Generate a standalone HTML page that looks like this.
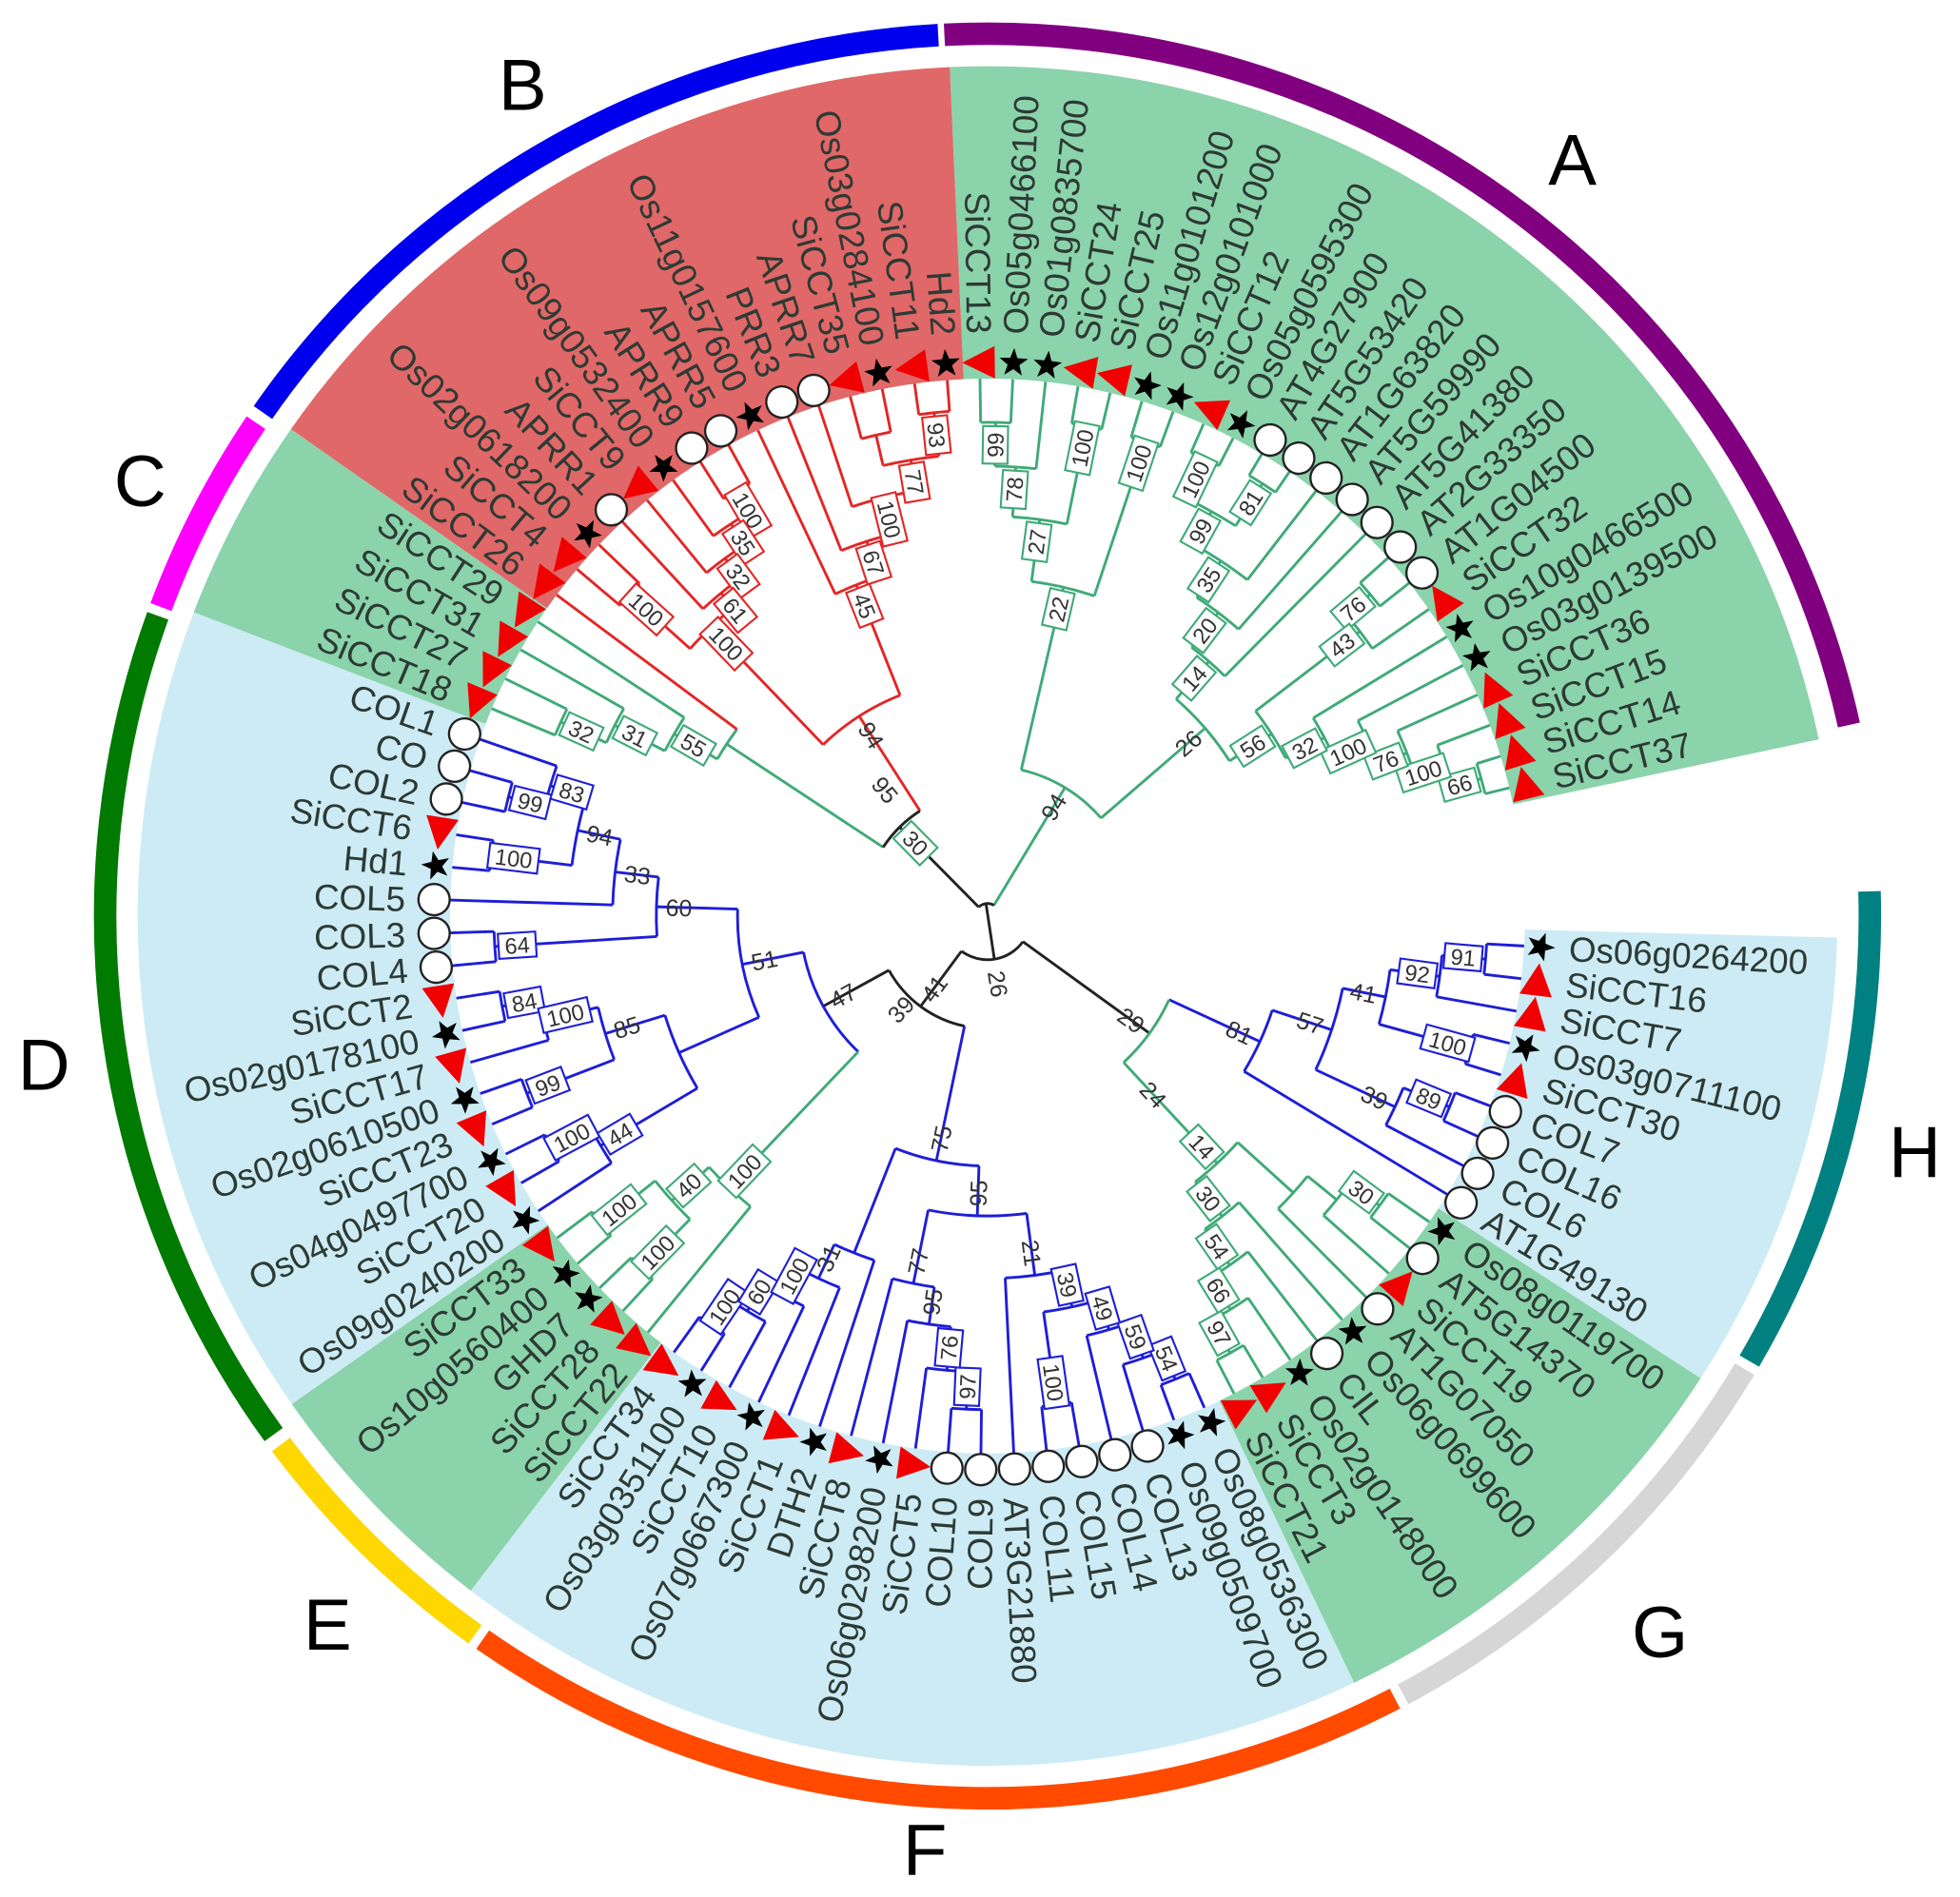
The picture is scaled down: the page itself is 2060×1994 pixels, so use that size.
<!DOCTYPE html>
<html><head><meta charset="utf-8"><style>
html,body{margin:0;padding:0;background:#fff;width:2060px;height:1994px;overflow:hidden}
svg{display:block}
.lab{font-family:"Liberation Sans",sans-serif;font-size:28px;fill:#2d3a34}
.R{text-anchor:start}.L{text-anchor:end}
.big{font-family:"Liberation Sans",sans-serif;font-size:58px;fill:#000;text-anchor:middle}
.bx text{font-family:"Liberation Sans",sans-serif;font-size:18px;fill:#333;text-anchor:middle}
.bx rect{fill:#fff;stroke-width:1.6}
.pl{font-family:"Liberation Sans",sans-serif;font-size:19px;fill:#333;text-anchor:middle}
</style></head><body>
<svg width="2060" height="1994" viewBox="0 0 1568 1518" xmlns="http://www.w3.org/2000/svg">
<defs>
<path id="st" d="M0,-12 L2.9,-4 L11.4,-3.7 L4.7,1.5 L7.1,9.7 L0,4.9 L-7.1,9.7 L-4.7,1.5 L-11.4,-3.7 L-2.9,-4Z" fill="#000"/>
<polygon id="tr" points="-14,0 12,-13 12,13" fill="#f00000"/>
<circle id="ci" r="12.5" fill="#fff" stroke="#222" stroke-width="1.8"/>
</defs>
<g fill="none" stroke-width="250">
<circle cx="790" cy="733" r="555" pathLength="360" stroke="#8bd3ab" stroke-dasharray="80.55 400" transform="rotate(-92.55 790 733)"/>
<circle cx="790" cy="733" r="555" pathLength="360" stroke="#cdebf4" stroke-dasharray="31.5 400" transform="rotate(1.45 790 733)"/>
<circle cx="790" cy="733" r="555" pathLength="360" stroke="#8bd3ab" stroke-dasharray="31.5 400" transform="rotate(32.95 790 733)"/>
<circle cx="790" cy="733" r="555" pathLength="360" stroke="#cdebf4" stroke-dasharray="63 400" transform="rotate(64.45 790 733)"/>
<circle cx="790" cy="733" r="555" pathLength="360" stroke="#8bd3ab" stroke-dasharray="17.5 400" transform="rotate(127.45 790 733)"/>
<circle cx="790" cy="733" r="555" pathLength="360" stroke="#cdebf4" stroke-dasharray="56 400" transform="rotate(144.95 790 733)"/>
<circle cx="790" cy="733" r="555" pathLength="360" stroke="#8bd3ab" stroke-dasharray="14 400" transform="rotate(200.95 790 733)"/>
<circle cx="790" cy="733" r="555" pathLength="360" stroke="#e06868" stroke-dasharray="52.5 400" transform="rotate(214.95 790 733)"/>
</g>
<g fill="none" stroke-width="18">
<circle cx="790" cy="733" r="706" pathLength="360" stroke="#800080" stroke-dasharray="80.3 400" transform="rotate(-92.8 790 733)"/>
<circle cx="790" cy="733" r="706" pathLength="360" stroke="#008080" stroke-dasharray="31.9 400" transform="rotate(-1.6 790 733)"/>
<circle cx="790" cy="733" r="706" pathLength="360" stroke="#d6d6d6" stroke-dasharray="31 400" transform="rotate(30.9 790 733)"/>
<circle cx="790" cy="733" r="706" pathLength="360" stroke="#ff4a00" stroke-dasharray="62.4 400" transform="rotate(62.5 790 733)"/>
<circle cx="790" cy="733" r="706" pathLength="360" stroke="#ffd700" stroke-dasharray="17.7 400" transform="rotate(125.5 790 733)"/>
<circle cx="790" cy="733" r="706" pathLength="360" stroke="#007a00" stroke-dasharray="55.9 400" transform="rotate(144 790 733)"/>
<circle cx="790" cy="733" r="706" pathLength="360" stroke="#ff00ff" stroke-dasharray="13.5 400" transform="rotate(200.5 790 733)"/>
<circle cx="790" cy="733" r="706" pathLength="360" stroke="#0000ee" stroke-dasharray="52 400" transform="rotate(214.8 790 733)"/>
</g>
<g class="big">
<text x="1258" y="148">A</text><text x="418" y="88">B</text><text x="112" y="405">C</text><text x="35" y="872">D</text>
<text x="262" y="1320">E</text><text x="740" y="1500">F</text><text x="1328" y="1326">G</text><text x="1532" y="942">H</text>
</g>

<g fill="none" stroke-width="2.2">
<g stroke="#3faa78">
<circle cx="790" cy="733" r="395" pathLength="360" stroke-dasharray="3.5 400" transform="rotate(-90.8 790 733)"/>
<path d="M790 338V303" transform="rotate(-0.8 790 733)"/><path d="M790 338V303" transform="rotate(2.7 790 733)"/>
<circle cx="790" cy="733" r="360" pathLength="360" stroke-dasharray="5.25 400" transform="rotate(-89.05 790 733)"/>
<path d="M790 373V338" transform="rotate(0.95 790 733)"/><path d="M790 373V303" transform="rotate(6.2 790 733)"/>
<circle cx="790" cy="733" r="400" pathLength="360" stroke-dasharray="3.5 400" transform="rotate(-80.3 790 733)"/>
<path d="M790 333V303" transform="rotate(9.7 790 733)"/><path d="M790 333V303" transform="rotate(13.2 790 733)"/>
<circle cx="790" cy="733" r="320" pathLength="360" stroke-dasharray="7.85 400" transform="rotate(-86.4 790 733)"/>
<path d="M790 413V373" transform="rotate(3.6 790 733)"/><path d="M790 413V333" transform="rotate(11.45 790 733)"/>
<circle cx="790" cy="733" r="400" pathLength="360" stroke-dasharray="3.5 400" transform="rotate(-73.3 790 733)"/>
<path d="M790 333V303" transform="rotate(16.7 790 733)"/><path d="M790 333V303" transform="rotate(20.2 790 733)"/>
<circle cx="790" cy="733" r="270" pathLength="360" stroke-dasharray="10.95 400" transform="rotate(-82.5 790 733)"/>
<path d="M790 463V413" transform="rotate(7.5 790 733)"/><path d="M790 463V333" transform="rotate(18.45 790 733)"/>
<circle cx="790" cy="733" r="405" pathLength="360" stroke-dasharray="3.5 400" transform="rotate(-66.3 790 733)"/>
<path d="M790 328V303" transform="rotate(23.7 790 733)"/><path d="M790 328V303" transform="rotate(27.2 790 733)"/>
<circle cx="790" cy="733" r="410" pathLength="360" stroke-dasharray="3.5 400" transform="rotate(-59.3 790 733)"/>
<path d="M790 323V303" transform="rotate(30.7 790 733)"/><path d="M790 323V303" transform="rotate(34.2 790 733)"/>
<circle cx="790" cy="733" r="370" pathLength="360" stroke-dasharray="7 400" transform="rotate(-64.55 790 733)"/>
<path d="M790 363V328" transform="rotate(25.45 790 733)"/><path d="M790 363V323" transform="rotate(32.45 790 733)"/>
<circle cx="790" cy="733" r="340" pathLength="360" stroke-dasharray="8.75 400" transform="rotate(-61.05 790 733)"/>
<path d="M790 393V363" transform="rotate(28.95 790 733)"/><path d="M790 393V303" transform="rotate(37.7 790 733)"/>
<circle cx="790" cy="733" r="305" pathLength="360" stroke-dasharray="7.9 400" transform="rotate(-56.7 790 733)"/>
<path d="M790 428V393" transform="rotate(33.3 790 733)"/><path d="M790 428V303" transform="rotate(41.2 790 733)"/>
<circle cx="790" cy="733" r="270" pathLength="360" stroke-dasharray="7.45 400" transform="rotate(-52.75 790 733)"/>
<path d="M790 463V428" transform="rotate(37.25 790 733)"/><path d="M790 463V303" transform="rotate(44.7 790 733)"/>
<circle cx="790" cy="733" r="400" pathLength="360" stroke-dasharray="3.5 400" transform="rotate(-41.8 790 733)"/>
<path d="M790 333V303" transform="rotate(48.2 790 733)"/><path d="M790 333V303" transform="rotate(51.7 790 733)"/>
<circle cx="790" cy="733" r="375" pathLength="360" stroke-dasharray="5.25 400" transform="rotate(-40.05 790 733)"/>
<path d="M790 358V333" transform="rotate(49.95 790 733)"/><path d="M790 358V303" transform="rotate(55.2 790 733)"/>
<circle cx="790" cy="733" r="410" pathLength="360" stroke-dasharray="3.5 400" transform="rotate(-17.3 790 733)"/>
<path d="M790 323V303" transform="rotate(72.7 790 733)"/><path d="M790 323V303" transform="rotate(76.2 790 733)"/>
<circle cx="790" cy="733" r="385" pathLength="360" stroke-dasharray="5.25 400" transform="rotate(-20.8 790 733)"/>
<path d="M790 348V303" transform="rotate(69.2 790 733)"/><path d="M790 348V323" transform="rotate(74.45 790 733)"/>
<circle cx="790" cy="733" r="360" pathLength="360" stroke-dasharray="6.1 400" transform="rotate(-24.3 790 733)"/>
<path d="M790 373V303" transform="rotate(65.7 790 733)"/><path d="M790 373V348" transform="rotate(71.8 790 733)"/>
<circle cx="790" cy="733" r="335" pathLength="360" stroke-dasharray="6.55 400" transform="rotate(-27.8 790 733)"/>
<path d="M790 398V303" transform="rotate(62.2 790 733)"/><path d="M790 398V373" transform="rotate(68.75 790 733)"/>
<circle cx="790" cy="733" r="305" pathLength="360" stroke-dasharray="6.8 400" transform="rotate(-31.3 790 733)"/>
<path d="M790 428V303" transform="rotate(58.7 790 733)"/><path d="M790 428V398" transform="rotate(65.5 790 733)"/>
<circle cx="790" cy="733" r="270" pathLength="360" stroke-dasharray="9.5 400" transform="rotate(-37.4 790 733)"/>
<path d="M790 463V358" transform="rotate(52.6 790 733)"/><path d="M790 463V428" transform="rotate(62.1 790 733)"/>
<circle cx="790" cy="733" r="230" pathLength="360" stroke-dasharray="16.35 400" transform="rotate(-49 790 733)"/>
<path d="M790 503V463" transform="rotate(41 790 733)"/><path d="M790 503V463" transform="rotate(57.35 790 733)"/>
<circle cx="790" cy="733" r="120" pathLength="360" stroke-dasharray="36.2 400" transform="rotate(-77 790 733)"/>
<path d="M790 613V463" transform="rotate(13 790 733)"/><path d="M790 613V503" transform="rotate(49.2 790 733)"/>
<path d="M790 723V613" transform="rotate(31.1 790 733)"/>
</g>
<g stroke="#e32626">
<circle cx="790" cy="733" r="405" pathLength="360" stroke-dasharray="3.5 400" transform="rotate(262.2 790 733)"/>
<path d="M790 328V303" transform="rotate(352.2 790 733)"/><path d="M790 328V303" transform="rotate(355.7 790 733)"/>
<circle cx="790" cy="733" r="395" pathLength="360" stroke-dasharray="3.5 400" transform="rotate(255.2 790 733)"/>
<path d="M790 338V303" transform="rotate(345.2 790 733)"/><path d="M790 338V303" transform="rotate(348.7 790 733)"/>
<circle cx="790" cy="733" r="370" pathLength="360" stroke-dasharray="7 400" transform="rotate(256.95 790 733)"/>
<path d="M790 363V338" transform="rotate(346.95 790 733)"/><path d="M790 363V328" transform="rotate(353.95 790 733)"/>
<circle cx="790" cy="733" r="345" pathLength="360" stroke-dasharray="8.75 400" transform="rotate(251.7 790 733)"/>
<path d="M790 388V303" transform="rotate(341.7 790 733)"/><path d="M790 388V363" transform="rotate(350.45 790 733)"/>
<circle cx="790" cy="733" r="315" pathLength="360" stroke-dasharray="7.9 400" transform="rotate(248.2 790 733)"/>
<path d="M790 418V303" transform="rotate(338.2 790 733)"/><path d="M790 418V388" transform="rotate(346.1 790 733)"/>
<circle cx="790" cy="733" r="285" pathLength="360" stroke-dasharray="7.45 400" transform="rotate(244.7 790 733)"/>
<path d="M790 448V303" transform="rotate(334.7 790 733)"/><path d="M790 448V418" transform="rotate(342.15 790 733)"/>
<circle cx="790" cy="733" r="395" pathLength="360" stroke-dasharray="3.5 400" transform="rotate(237.7 790 733)"/>
<path d="M790 338V303" transform="rotate(327.7 790 733)"/><path d="M790 338V303" transform="rotate(331.2 790 733)"/>
<circle cx="790" cy="733" r="375" pathLength="360" stroke-dasharray="5.25 400" transform="rotate(234.2 790 733)"/>
<path d="M790 358V303" transform="rotate(324.2 790 733)"/><path d="M790 358V338" transform="rotate(329.45 790 733)"/>
<circle cx="790" cy="733" r="355" pathLength="360" stroke-dasharray="6.1 400" transform="rotate(230.7 790 733)"/>
<path d="M790 378V303" transform="rotate(320.7 790 733)"/><path d="M790 378V358" transform="rotate(326.8 790 733)"/>
<circle cx="790" cy="733" r="335" pathLength="360" stroke-dasharray="6.55 400" transform="rotate(227.2 790 733)"/>
<path d="M790 398V303" transform="rotate(317.2 790 733)"/><path d="M790 398V378" transform="rotate(323.75 790 733)"/>
<circle cx="790" cy="733" r="385" pathLength="360" stroke-dasharray="3.5 400" transform="rotate(220.2 790 733)"/>
<path d="M790 348V303" transform="rotate(310.2 790 733)"/><path d="M790 348V303" transform="rotate(313.7 790 733)"/>
<circle cx="790" cy="733" r="320" pathLength="360" stroke-dasharray="8.55 400" transform="rotate(221.95 790 733)"/>
<path d="M790 413V348" transform="rotate(311.95 790 733)"/><path d="M790 413V398" transform="rotate(320.5 790 733)"/>
<circle cx="790" cy="733" r="190" pathLength="360" stroke-dasharray="22.2 400" transform="rotate(226.2 790 733)"/>
<path d="M790 543V413" transform="rotate(316.2 790 733)"/><path d="M790 543V448" transform="rotate(338.4 790 733)"/>
<path d="M790 633V543" transform="rotate(327.3 790 733)"/>
</g>
<g stroke="#3faa78">
<circle cx="790" cy="733" r="375" pathLength="360" stroke-dasharray="3.5 400" transform="rotate(202.7 790 733)"/>
<path d="M790 358V303" transform="rotate(292.7 790 733)"/><path d="M790 358V303" transform="rotate(296.2 790 733)"/>
<circle cx="790" cy="733" r="335" pathLength="360" stroke-dasharray="5.25 400" transform="rotate(204.45 790 733)"/>
<path d="M790 398V358" transform="rotate(294.45 790 733)"/><path d="M790 398V303" transform="rotate(299.7 790 733)"/>
<circle cx="790" cy="733" r="290" pathLength="360" stroke-dasharray="6.1 400" transform="rotate(207.1 790 733)"/>
<path d="M790 443V398" transform="rotate(297.1 790 733)"/><path d="M790 443V303" transform="rotate(303.2 790 733)"/>
<circle cx="790" cy="733" r="250" pathLength="360" stroke-dasharray="6.55 400" transform="rotate(210.15 790 733)"/>
<path d="M790 483V443" transform="rotate(300.15 790 733)"/><path d="M790 483V303" transform="rotate(306.7 790 733)" stroke="#e32626"/>
<path d="M790 633V483" transform="rotate(303.4 790 733)"/>
</g>
<g stroke="#222">
<circle cx="790" cy="733" r="100" pathLength="360" stroke-dasharray="23.9 400" transform="rotate(213.4 790 733)"/>
<path d="M790 723V633" transform="rotate(315.35 790 733)"/>
<circle cx="790" cy="733" r="10" pathLength="360" stroke-dasharray="75.75 400" transform="rotate(225.35 790 733)"/>
<circle cx="790" cy="733" r="90" pathLength="360" stroke-dasharray="49.4 400" transform="rotate(101.8 790 733)"/>
<path d="M790 643V583" transform="rotate(241.2 790 733)"/>
<circle cx="790" cy="733" r="35" pathLength="360" stroke-dasharray="90.6 400" transform="rotate(35.9 790 733)"/>
<path d="M790 698V573" transform="rotate(125.9 790 733)"/><path d="M790 698V643" transform="rotate(216.5 790 733)"/>
<path d="M795.5 767.6L788.8 723.1"/>
</g>
<g stroke="#1e1ed8">
<circle cx="790" cy="733" r="395" pathLength="360" stroke-dasharray="3.5 400" transform="rotate(192.2 790 733)"/>
<path d="M790 338V303" transform="rotate(282.2 790 733)"/><path d="M790 338V303" transform="rotate(285.7 790 733)"/>
<circle cx="790" cy="733" r="365" pathLength="360" stroke-dasharray="5.25 400" transform="rotate(193.95 790 733)"/>
<path d="M790 368V338" transform="rotate(283.95 790 733)"/><path d="M790 368V303" transform="rotate(289.2 790 733)"/>
<circle cx="790" cy="733" r="400" pathLength="360" stroke-dasharray="3.5 400" transform="rotate(185.2 790 733)"/>
<path d="M790 333V303" transform="rotate(275.2 790 733)"/><path d="M790 333V303" transform="rotate(278.7 790 733)"/>
<circle cx="790" cy="733" r="335" pathLength="360" stroke-dasharray="9.65 400" transform="rotate(186.95 790 733)"/>
<path d="M790 398V333" transform="rotate(276.95 790 733)"/><path d="M790 398V368" transform="rotate(286.6 790 733)"/>
<circle cx="790" cy="733" r="300" pathLength="360" stroke-dasharray="10.1 400" transform="rotate(181.7 790 733)"/>
<path d="M790 433V303" transform="rotate(271.7 790 733)"/><path d="M790 433V398" transform="rotate(281.8 790 733)"/>
<circle cx="790" cy="733" r="395" pathLength="360" stroke-dasharray="3.5 400" transform="rotate(174.7 790 733)"/>
<path d="M790 338V303" transform="rotate(264.7 790 733)"/><path d="M790 338V303" transform="rotate(268.2 790 733)"/>
<circle cx="790" cy="733" r="265" pathLength="360" stroke-dasharray="10.3 400" transform="rotate(176.45 790 733)"/>
<path d="M790 468V338" transform="rotate(266.45 790 733)"/><path d="M790 468V433" transform="rotate(276.75 790 733)"/>
<circle cx="790" cy="733" r="395" pathLength="360" stroke-dasharray="3.5 400" transform="rotate(167.7 790 733)"/>
<path d="M790 338V303" transform="rotate(257.7 790 733)"/><path d="M790 338V303" transform="rotate(261.2 790 733)"/>
<circle cx="790" cy="733" r="365" pathLength="360" stroke-dasharray="5.25 400" transform="rotate(164.2 790 733)"/>
<path d="M790 368V303" transform="rotate(254.2 790 733)"/><path d="M790 368V338" transform="rotate(259.45 790 733)"/>
<circle cx="790" cy="733" r="395" pathLength="360" stroke-dasharray="3.5 400" transform="rotate(157.2 790 733)"/>
<path d="M790 338V303" transform="rotate(247.2 790 733)"/><path d="M790 338V303" transform="rotate(250.7 790 733)"/>
<circle cx="790" cy="733" r="320" pathLength="360" stroke-dasharray="7.85 400" transform="rotate(158.95 790 733)"/>
<path d="M790 413V338" transform="rotate(248.95 790 733)"/><path d="M790 413V368" transform="rotate(256.8 790 733)"/>
<circle cx="790" cy="733" r="395" pathLength="360" stroke-dasharray="3.5 400" transform="rotate(150.2 790 733)"/>
<path d="M790 338V303" transform="rotate(240.2 790 733)"/><path d="M790 338V303" transform="rotate(243.7 790 733)"/>
<circle cx="790" cy="733" r="360" pathLength="360" stroke-dasharray="5.25 400" transform="rotate(146.7 790 733)"/>
<path d="M790 373V303" transform="rotate(236.7 790 733)"/><path d="M790 373V338" transform="rotate(241.95 790 733)"/>
<circle cx="790" cy="733" r="270" pathLength="360" stroke-dasharray="13.6 400" transform="rotate(149.3 790 733)"/>
<path d="M790 463V373" transform="rotate(239.3 790 733)"/><path d="M790 463V413" transform="rotate(252.9 790 733)"/>
<circle cx="790" cy="733" r="200" pathLength="360" stroke-dasharray="25.5 400" transform="rotate(156.1 790 733)"/>
<path d="M790 533V463" transform="rotate(246.1 790 733)"/><path d="M790 533V468" transform="rotate(271.6 790 733)"/>
<circle cx="790" cy="733" r="150" pathLength="360" stroke-dasharray="35.25 400" transform="rotate(133.6 790 733)"/>
<path d="M790 583V533" transform="rotate(258.85 790 733)"/>
</g>
<g stroke="#3faa78">
<circle cx="790" cy="733" r="395" pathLength="360" stroke-dasharray="3.5 400" transform="rotate(139.7 790 733)"/>
<path d="M790 338V303" transform="rotate(229.7 790 733)"/><path d="M790 338V303" transform="rotate(233.2 790 733)"/>
<circle cx="790" cy="733" r="395" pathLength="360" stroke-dasharray="3.5 400" transform="rotate(132.7 790 733)"/>
<path d="M790 338V303" transform="rotate(222.7 790 733)"/><path d="M790 338V303" transform="rotate(226.2 790 733)"/>
<circle cx="790" cy="733" r="340" pathLength="360" stroke-dasharray="7 400" transform="rotate(134.45 790 733)"/>
<path d="M790 393V338" transform="rotate(224.45 790 733)"/><path d="M790 393V338" transform="rotate(231.45 790 733)"/>
<circle cx="790" cy="733" r="300" pathLength="360" stroke-dasharray="8.75 400" transform="rotate(129.2 790 733)"/>
<path d="M790 433V303" transform="rotate(219.2 790 733)"/><path d="M790 433V393" transform="rotate(227.95 790 733)"/>
<path d="M790 583V433" transform="rotate(223.6 790 733)"/>
</g>
<g stroke="#1e1ed8">
<circle cx="790" cy="733" r="400" pathLength="360" stroke-dasharray="3.5 400" transform="rotate(66.2 790 733)"/>
<path d="M790 333V303" transform="rotate(156.2 790 733)"/><path d="M790 333V303" transform="rotate(159.7 790 733)"/>
<circle cx="790" cy="733" r="375" pathLength="360" stroke-dasharray="5.25 400" transform="rotate(67.95 790 733)"/>
<path d="M790 358V333" transform="rotate(157.95 790 733)"/><path d="M790 358V303" transform="rotate(163.2 790 733)"/>
<circle cx="790" cy="733" r="345" pathLength="360" stroke-dasharray="6.1 400" transform="rotate(70.6 790 733)"/>
<path d="M790 388V358" transform="rotate(160.6 790 733)"/><path d="M790 388V303" transform="rotate(166.7 790 733)"/>
<circle cx="790" cy="733" r="395" pathLength="360" stroke-dasharray="3.5 400" transform="rotate(80.2 790 733)"/>
<path d="M790 338V303" transform="rotate(170.2 790 733)"/><path d="M790 338V303" transform="rotate(173.7 790 733)"/>
<circle cx="790" cy="733" r="320" pathLength="360" stroke-dasharray="8.3 400" transform="rotate(73.65 790 733)"/>
<path d="M790 413V388" transform="rotate(163.65 790 733)"/><path d="M790 413V338" transform="rotate(171.95 790 733)"/>
<circle cx="790" cy="733" r="395" pathLength="360" stroke-dasharray="3.5 400" transform="rotate(90.7 790 733)"/>
<path d="M790 338V303" transform="rotate(180.7 790 733)"/><path d="M790 338V303" transform="rotate(184.2 790 733)"/>
<circle cx="790" cy="733" r="290" pathLength="360" stroke-dasharray="9.4 400" transform="rotate(77.8 790 733)"/>
<path d="M790 443V413" transform="rotate(167.8 790 733)"/><path d="M790 443V303" transform="rotate(177.2 790 733)"/>
<circle cx="790" cy="733" r="365" pathLength="360" stroke-dasharray="5.25 400" transform="rotate(92.45 790 733)"/>
<path d="M790 368V338" transform="rotate(182.45 790 733)"/><path d="M790 368V303" transform="rotate(187.7 790 733)"/>
<circle cx="790" cy="733" r="330" pathLength="360" stroke-dasharray="6.1 400" transform="rotate(95.1 790 733)"/>
<path d="M790 403V368" transform="rotate(185.1 790 733)"/><path d="M790 403V303" transform="rotate(191.2 790 733)"/>
<circle cx="790" cy="733" r="300" pathLength="360" stroke-dasharray="6.55 400" transform="rotate(98.15 790 733)"/>
<path d="M790 433V403" transform="rotate(188.15 790 733)"/><path d="M790 433V303" transform="rotate(194.7 790 733)"/>
<circle cx="790" cy="733" r="240" pathLength="360" stroke-dasharray="18.9 400" transform="rotate(82.5 790 733)"/>
<path d="M790 493V443" transform="rotate(172.5 790 733)"/><path d="M790 493V433" transform="rotate(191.4 790 733)"/>
<circle cx="790" cy="733" r="395" pathLength="360" stroke-dasharray="3.5 400" transform="rotate(122.2 790 733)"/>
<path d="M790 338V303" transform="rotate(212.2 790 733)"/><path d="M790 338V303" transform="rotate(215.7 790 733)"/>
<circle cx="790" cy="733" r="370" pathLength="360" stroke-dasharray="5.25 400" transform="rotate(118.7 790 733)"/>
<path d="M790 363V303" transform="rotate(208.7 790 733)"/><path d="M790 363V338" transform="rotate(213.95 790 733)"/>
<circle cx="790" cy="733" r="345" pathLength="360" stroke-dasharray="6.1 400" transform="rotate(115.2 790 733)"/>
<path d="M790 388V303" transform="rotate(205.2 790 733)"/><path d="M790 388V363" transform="rotate(211.3 790 733)"/>
<circle cx="790" cy="733" r="320" pathLength="360" stroke-dasharray="6.55 400" transform="rotate(111.7 790 733)"/>
<path d="M790 413V303" transform="rotate(201.7 790 733)"/><path d="M790 413V388" transform="rotate(208.25 790 733)"/>
<circle cx="790" cy="733" r="290" pathLength="360" stroke-dasharray="6.8 400" transform="rotate(108.2 790 733)"/>
<path d="M790 443V303" transform="rotate(198.2 790 733)"/><path d="M790 443V413" transform="rotate(205 790 733)"/>
<circle cx="790" cy="733" r="200" pathLength="360" stroke-dasharray="19.65 400" transform="rotate(91.95 790 733)"/>
<path d="M790 533V493" transform="rotate(181.95 790 733)"/><path d="M790 533V443" transform="rotate(201.6 790 733)"/>
<path d="M790 643V533" transform="rotate(191.8 790 733)"/>
</g>
<g stroke="#1e1ed8">
<circle cx="790" cy="733" r="400" pathLength="360" stroke-dasharray="3.5 400" transform="rotate(3.2 790 733)"/>
<path d="M790 333V303" transform="rotate(93.2 790 733)"/><path d="M790 333V303" transform="rotate(96.7 790 733)"/>
<circle cx="790" cy="733" r="365" pathLength="360" stroke-dasharray="5.25 400" transform="rotate(4.95 790 733)"/>
<path d="M790 368V333" transform="rotate(94.95 790 733)"/><path d="M790 368V303" transform="rotate(100.2 790 733)"/>
<circle cx="790" cy="733" r="400" pathLength="360" stroke-dasharray="3.5 400" transform="rotate(13.7 790 733)"/>
<path d="M790 333V303" transform="rotate(103.7 790 733)"/><path d="M790 333V303" transform="rotate(107.2 790 733)"/>
<circle cx="790" cy="733" r="325" pathLength="360" stroke-dasharray="7.85 400" transform="rotate(7.6 790 733)"/>
<path d="M790 408V368" transform="rotate(97.6 790 733)"/><path d="M790 408V333" transform="rotate(105.45 790 733)"/>
<circle cx="790" cy="733" r="400" pathLength="360" stroke-dasharray="3.5 400" transform="rotate(20.7 790 733)"/>
<path d="M790 333V303" transform="rotate(110.7 790 733)"/><path d="M790 333V303" transform="rotate(114.2 790 733)"/>
<circle cx="790" cy="733" r="360" pathLength="360" stroke-dasharray="5.25 400" transform="rotate(22.45 790 733)"/>
<path d="M790 373V333" transform="rotate(112.45 790 733)"/><path d="M790 373V303" transform="rotate(117.7 790 733)"/>
<circle cx="790" cy="733" r="290" pathLength="360" stroke-dasharray="13.6 400" transform="rotate(11.5 790 733)"/>
<path d="M790 443V408" transform="rotate(101.5 790 733)"/><path d="M790 443V373" transform="rotate(115.1 790 733)"/>
<circle cx="790" cy="733" r="240" pathLength="360" stroke-dasharray="12.9 400" transform="rotate(18.3 790 733)"/>
<path d="M790 493V443" transform="rotate(108.3 790 733)"/><path d="M790 493V303" transform="rotate(121.2 790 733)"/>
<path d="M790 573V493" transform="rotate(114.75 790 733)"/>
</g>
<g stroke="#3faa78">
<circle cx="790" cy="733" r="400" pathLength="360" stroke-dasharray="3.5 400" transform="rotate(59.2 790 733)"/>
<path d="M790 333V303" transform="rotate(149.2 790 733)"/><path d="M790 333V303" transform="rotate(152.7 790 733)"/>
<circle cx="790" cy="733" r="370" pathLength="360" stroke-dasharray="5.25 400" transform="rotate(55.7 790 733)"/>
<path d="M790 363V303" transform="rotate(145.7 790 733)"/><path d="M790 363V333" transform="rotate(150.95 790 733)"/>
<circle cx="790" cy="733" r="340" pathLength="360" stroke-dasharray="6.1 400" transform="rotate(52.2 790 733)"/>
<path d="M790 393V303" transform="rotate(142.2 790 733)"/><path d="M790 393V363" transform="rotate(148.3 790 733)"/>
<circle cx="790" cy="733" r="305" pathLength="360" stroke-dasharray="6.55 400" transform="rotate(48.7 790 733)"/>
<path d="M790 428V303" transform="rotate(138.7 790 733)"/><path d="M790 428V393" transform="rotate(145.25 790 733)"/>
<circle cx="790" cy="733" r="390" pathLength="360" stroke-dasharray="3.5 400" transform="rotate(34.7 790 733)"/>
<path d="M790 343V303" transform="rotate(124.7 790 733)"/><path d="M790 343V303" transform="rotate(128.2 790 733)"/>
<circle cx="790" cy="733" r="360" pathLength="360" stroke-dasharray="5.25 400" transform="rotate(36.45 790 733)"/>
<path d="M790 373V343" transform="rotate(126.45 790 733)"/><path d="M790 373V303" transform="rotate(131.7 790 733)"/>
<circle cx="790" cy="733" r="330" pathLength="360" stroke-dasharray="6.1 400" transform="rotate(39.1 790 733)"/>
<path d="M790 403V373" transform="rotate(129.1 790 733)"/><path d="M790 403V303" transform="rotate(135.2 790 733)"/>
<circle cx="790" cy="733" r="270" pathLength="360" stroke-dasharray="9.85 400" transform="rotate(42.15 790 733)"/>
<path d="M790 463V403" transform="rotate(132.15 790 733)"/><path d="M790 463V428" transform="rotate(142 790 733)"/>
<circle cx="790" cy="733" r="160" pathLength="360" stroke-dasharray="22.35 400" transform="rotate(24.75 790 733)"/>
<path d="M790 573V463" transform="rotate(137.1 790 733)"/>
</g>
</g>

<g class="bx">
<g stroke="#3faa78">
<g transform="rotate(-89.05 790 733) translate(1167 733)"><rect x="-15" y="-10" width="30" height="20"/><text y="6.5" stroke="none">99</text></g>
<g transform="rotate(-86.4 790 733) translate(1132 733)"><rect x="-15" y="-10" width="30" height="20"/><text y="6.5" stroke="none">78</text></g>
<g transform="rotate(-78.55 790 733) translate(1172 733)"><rect x="-20" y="-10" width="40" height="20"/><text y="6.5" stroke="none">100</text></g>
<g transform="rotate(-82.5 790 733) translate(1092 733)"><rect x="-15" y="-10" width="30" height="20"/><text y="6.5" stroke="none">27</text></g>
<g transform="rotate(-71.55 790 733) translate(1172 733)"><rect x="-20" y="-10" width="40" height="20"/><text y="6.5" stroke="none">100</text></g>
<g transform="rotate(-77 790 733) translate(1042 733)"><rect x="-15" y="-10" width="30" height="20"/><text y="6.5" stroke="none">22</text></g>
<g transform="rotate(-64.55 790 733) translate(1177 733)"><rect x="-20" y="-10" width="40" height="20"/><text y="6.5" stroke="none">100</text></g>
<g transform="rotate(-57.55 790 733) translate(1182 733)"><rect x="-15" y="-10" width="30" height="20"/><text y="6.5" stroke="none">81</text></g>
<g transform="rotate(-61.05 790 733) translate(1142 733)"><rect x="-15" y="-10" width="30" height="20"/><text y="6.5" stroke="none">99</text></g>
<g transform="rotate(-56.7 790 733) translate(1112 733)"><rect x="-15" y="-10" width="30" height="20"/><text y="6.5" stroke="none">35</text></g>
<g transform="rotate(-52.75 790 733) translate(1077 733)"><rect x="-15" y="-10" width="30" height="20"/><text y="6.5" stroke="none">20</text></g>
<g transform="rotate(-49 790 733) translate(1042 733)"><rect x="-15" y="-10" width="30" height="20"/><text y="6.5" stroke="none">14</text></g>
<g transform="rotate(-40.05 790 733) translate(1172 733)"><rect x="-15" y="-10" width="30" height="20"/><text y="6.5" stroke="none">76</text></g>
<g transform="rotate(-37.4 790 733) translate(1147 733)"><rect x="-15" y="-10" width="30" height="20"/><text y="6.5" stroke="none">43</text></g>
<g transform="rotate(-15.55 790 733) translate(1182 733)"><rect x="-15" y="-10" width="30" height="20"/><text y="6.5" stroke="none">66</text></g>
<g transform="rotate(-18.2 790 733) translate(1157 733)"><rect x="-20" y="-10" width="40" height="20"/><text y="6.5" stroke="none">100</text></g>
<g transform="rotate(-21.25 790 733) translate(1132 733)"><rect x="-15" y="-10" width="30" height="20"/><text y="6.5" stroke="none">76</text></g>
<g transform="rotate(-24.5 790 733) translate(1107 733)"><rect x="-20" y="-10" width="40" height="20"/><text y="6.5" stroke="none">100</text></g>
<g transform="rotate(-27.9 790 733) translate(1077 733)"><rect x="-15" y="-10" width="30" height="20"/><text y="6.5" stroke="none">32</text></g>
<g transform="rotate(-32.65 790 733) translate(1042 733)"><rect x="-15" y="-10" width="30" height="20"/><text y="6.5" stroke="none">56</text></g>
<g transform="rotate(384.45 790 733) translate(433 733)"><rect x="-15" y="-10" width="30" height="20"/><text y="6.5" stroke="none">32</text></g>
<g transform="rotate(387.1 790 733) translate(473 733)"><rect x="-15" y="-10" width="30" height="20"/><text y="6.5" stroke="none">31</text></g>
<g transform="rotate(390.15 790 733) translate(518 733)"><rect x="-15" y="-10" width="30" height="20"/><text y="6.5" stroke="none">55</text></g>
<g transform="rotate(405.35 790 733) translate(708 733)"><rect x="-15" y="-10" width="30" height="20"/><text y="6.5" stroke="none">30</text></g>
<g transform="rotate(321.45 790 733) translate(413 733)"><rect x="-20" y="-10" width="40" height="20"/><text y="6.5" stroke="none">100</text></g>
<g transform="rotate(314.45 790 733) translate(413 733)"><rect x="-20" y="-10" width="40" height="20"/><text y="6.5" stroke="none">100</text></g>
<g transform="rotate(317.95 790 733) translate(468 733)"><rect x="-15" y="-10" width="30" height="20"/><text y="6.5" stroke="none">40</text></g>
<g transform="rotate(313.6 790 733) translate(508 733)"><rect x="-20" y="-10" width="40" height="20"/><text y="6.5" stroke="none">100</text></g>
<g transform="rotate(60.95 790 733) translate(1172 733)"><rect x="-15" y="-10" width="30" height="20"/><text y="6.5" stroke="none">97</text></g>
<g transform="rotate(58.3 790 733) translate(1142 733)"><rect x="-15" y="-10" width="30" height="20"/><text y="6.5" stroke="none">66</text></g>
<g transform="rotate(55.25 790 733) translate(1112 733)"><rect x="-15" y="-10" width="30" height="20"/><text y="6.5" stroke="none">54</text></g>
<g transform="rotate(52 790 733) translate(1077 733)"><rect x="-15" y="-10" width="30" height="20"/><text y="6.5" stroke="none">30</text></g>
<g transform="rotate(36.45 790 733) translate(1162 733)"><rect x="-15" y="-10" width="30" height="20"/><text y="6.5" stroke="none">30</text></g>
<g transform="rotate(47.1 790 733) translate(1042 733)"><rect x="-15" y="-10" width="30" height="20"/><text y="6.5" stroke="none">14</text></g>
</g>
<g stroke="#e32626">
<g transform="rotate(443.95 790 733) translate(403 733)"><rect x="-15" y="-10" width="30" height="20"/><text y="6.5" stroke="none">93</text></g>
<g transform="rotate(440.45 790 733) translate(438 733)"><rect x="-15" y="-10" width="30" height="20"/><text y="6.5" stroke="none">77</text></g>
<g transform="rotate(436.1 790 733) translate(463 733)"><rect x="-20" y="-10" width="40" height="20"/><text y="6.5" stroke="none">100</text></g>
<g transform="rotate(432.15 790 733) translate(493 733)"><rect x="-15" y="-10" width="30" height="20"/><text y="6.5" stroke="none">67</text></g>
<g transform="rotate(428.4 790 733) translate(523 733)"><rect x="-15" y="-10" width="30" height="20"/><text y="6.5" stroke="none">45</text></g>
<g transform="rotate(419.45 790 733) translate(413 733)"><rect x="-20" y="-10" width="40" height="20"/><text y="6.5" stroke="none">100</text></g>
<g transform="rotate(416.8 790 733) translate(433 733)"><rect x="-15" y="-10" width="30" height="20"/><text y="6.5" stroke="none">35</text></g>
<g transform="rotate(413.75 790 733) translate(453 733)"><rect x="-15" y="-10" width="30" height="20"/><text y="6.5" stroke="none">32</text></g>
<g transform="rotate(410.5 790 733) translate(473 733)"><rect x="-15" y="-10" width="30" height="20"/><text y="6.5" stroke="none">61</text></g>
<g transform="rotate(401.95 790 733) translate(423 733)"><rect x="-20" y="-10" width="40" height="20"/><text y="6.5" stroke="none">100</text></g>
<g transform="rotate(406.2 790 733) translate(488 733)"><rect x="-20" y="-10" width="40" height="20"/><text y="6.5" stroke="none">100</text></g>
</g>
<g stroke="#1e1ed8">
<g transform="rotate(373.95 790 733) translate(413 733)"><rect x="-15" y="-10" width="30" height="20"/><text y="6.5" stroke="none">99</text></g>
<g transform="rotate(376.6 790 733) translate(443 733)"><rect x="-15" y="-10" width="30" height="20"/><text y="6.5" stroke="none">83</text></g>
<g transform="rotate(366.95 790 733) translate(408 733)"><rect x="-20" y="-10" width="40" height="20"/><text y="6.5" stroke="none">100</text></g>
<g transform="rotate(356.45 790 733) translate(413 733)"><rect x="-15" y="-10" width="30" height="20"/><text y="6.5" stroke="none">64</text></g>
<g transform="rotate(349.45 790 733) translate(413 733)"><rect x="-15" y="-10" width="30" height="20"/><text y="6.5" stroke="none">84</text></g>
<g transform="rotate(346.8 790 733) translate(443 733)"><rect x="-20" y="-10" width="40" height="20"/><text y="6.5" stroke="none">100</text></g>
<g transform="rotate(338.95 790 733) translate(413 733)"><rect x="-15" y="-10" width="30" height="20"/><text y="6.5" stroke="none">99</text></g>
<g transform="rotate(331.95 790 733) translate(413 733)"><rect x="-20" y="-10" width="40" height="20"/><text y="6.5" stroke="none">100</text></g>
<g transform="rotate(329.3 790 733) translate(448 733)"><rect x="-15" y="-10" width="30" height="20"/><text y="6.5" stroke="none">44</text></g>
<g transform="rotate(67.95 790 733) translate(1172 733)"><rect x="-15" y="-10" width="30" height="20"/><text y="6.5" stroke="none">54</text></g>
<g transform="rotate(70.6 790 733) translate(1147 733)"><rect x="-15" y="-10" width="30" height="20"/><text y="6.5" stroke="none">59</text></g>
<g transform="rotate(73.65 790 733) translate(1117 733)"><rect x="-15" y="-10" width="30" height="20"/><text y="6.5" stroke="none">49</text></g>
<g transform="rotate(81.95 790 733) translate(1167 733)"><rect x="-20" y="-10" width="40" height="20"/><text y="6.5" stroke="none">100</text></g>
<g transform="rotate(77.8 790 733) translate(1092 733)"><rect x="-15" y="-10" width="30" height="20"/><text y="6.5" stroke="none">39</text></g>
<g transform="rotate(272.45 790 733) translate(413 733)"><rect x="-15" y="-10" width="30" height="20"/><text y="6.5" stroke="none">97</text></g>
<g transform="rotate(275.1 790 733) translate(443 733)"><rect x="-15" y="-10" width="30" height="20"/><text y="6.5" stroke="none">76</text></g>
<g transform="rotate(303.95 790 733) translate(413 733)"><rect x="-20" y="-10" width="40" height="20"/><text y="6.5" stroke="none">100</text></g>
<g transform="rotate(301.3 790 733) translate(438 733)"><rect x="-15" y="-10" width="30" height="20"/><text y="6.5" stroke="none">60</text></g>
<g transform="rotate(298.25 790 733) translate(463 733)"><rect x="-20" y="-10" width="40" height="20"/><text y="6.5" stroke="none">100</text></g>
<g transform="rotate(4.95 790 733) translate(1172 733)"><rect x="-15" y="-10" width="30" height="20"/><text y="6.5" stroke="none">91</text></g>
<g transform="rotate(7.6 790 733) translate(1137 733)"><rect x="-15" y="-10" width="30" height="20"/><text y="6.5" stroke="none">92</text></g>
<g transform="rotate(15.45 790 733) translate(1172 733)"><rect x="-20" y="-10" width="40" height="20"/><text y="6.5" stroke="none">100</text></g>
<g transform="rotate(22.45 790 733) translate(1172 733)"><rect x="-15" y="-10" width="30" height="20"/><text y="6.5" stroke="none">89</text></g>
</g>
</g>
<g class="pl">
<text transform="rotate(-40.8 790 733) translate(1002 740)">26</text>
<text transform="rotate(-58.9 790 733) translate(892 740)">94</text>
<text transform="rotate(417.3 790 733) translate(618 740)">94</text>
<text transform="rotate(411 790 733) translate(660 740)">95</text>
<text transform="rotate(371.8 790 733) translate(473 740)">94</text>
<text transform="rotate(366.75 790 733) translate(508 740)">33</text>
<text transform="rotate(361.6 790 733) translate(543 740)">60</text>
<text transform="rotate(342.9 790 733) translate(488 740)">85</text>
<text transform="rotate(348.85 790 733) translate(608 740)">51</text>
<text transform="rotate(331.2 790 733) translate(658 740)">47</text>
<text transform="rotate(313 790 733) translate(688 740)">39</text>
<text transform="rotate(82.5 790 733) translate(1062 740)">21</text>
<text transform="rotate(278.15 790 733) translate(478 740)">95</text>
<text transform="rotate(281.4 790 733) translate(508 740)">77</text>
<text transform="rotate(271.95 790 733) translate(568 740)">95</text>
<text transform="rotate(295 790 733) translate(488 740)">31</text>
<text transform="rotate(281.8 790 733) translate(608 740)">75</text>
<text transform="rotate(306.5 790 733) translate(718 740)">41</text>
<text transform="rotate(11.5 790 733) translate(1097 740)">41</text>
<text transform="rotate(25.1 790 733) translate(1132 740)">39</text>
<text transform="rotate(18.3 790 733) translate(1062 740)">57</text>
<text transform="rotate(24.75 790 733) translate(1012 740)">81</text>
<text transform="rotate(35.9 790 733) translate(932 740)">29</text>
<text transform="rotate(47.1 790 733) translate(985 740)">24</text>
<text transform="rotate(81 790 733) translate(845 740)">26</text>
</g>

<g>
<use href="#tr" transform="rotate(-0.8 790 733) translate(790 290)"/>
<use href="#st" transform="rotate(2.7 790 733) translate(790 290)"/>
<use href="#st" transform="rotate(6.2 790 733) translate(790 290)"/>
<use href="#tr" transform="rotate(9.7 790 733) translate(790 290)"/>
<use href="#tr" transform="rotate(13.2 790 733) translate(790 290)"/>
<use href="#st" transform="rotate(16.7 790 733) translate(790 290)"/>
<use href="#st" transform="rotate(20.2 790 733) translate(790 290)"/>
<use href="#tr" transform="rotate(23.7 790 733) translate(790 290)"/>
<use href="#st" transform="rotate(27.2 790 733) translate(790 290)"/>
<use href="#ci" transform="rotate(30.7 790 733) translate(790 290)"/>
<use href="#ci" transform="rotate(34.2 790 733) translate(790 290)"/>
<use href="#ci" transform="rotate(37.7 790 733) translate(790 290)"/>
<use href="#ci" transform="rotate(41.2 790 733) translate(790 290)"/>
<use href="#ci" transform="rotate(44.7 790 733) translate(790 290)"/>
<use href="#ci" transform="rotate(48.2 790 733) translate(790 290)"/>
<use href="#ci" transform="rotate(51.7 790 733) translate(790 290)"/>
<use href="#tr" transform="rotate(55.2 790 733) translate(790 290)"/>
<use href="#st" transform="rotate(58.7 790 733) translate(790 290)"/>
<use href="#st" transform="rotate(62.2 790 733) translate(790 290)"/>
<use href="#tr" transform="rotate(65.7 790 733) translate(790 290)"/>
<use href="#tr" transform="rotate(69.2 790 733) translate(790 290)"/>
<use href="#tr" transform="rotate(72.7 790 733) translate(790 290)"/>
<use href="#tr" transform="rotate(76.2 790 733) translate(790 290)"/>
<use href="#st" transform="rotate(93.2 790 733) translate(790 290)"/>
<use href="#tr" transform="rotate(96.7 790 733) translate(790 290)"/>
<use href="#tr" transform="rotate(100.2 790 733) translate(790 290)"/>
<use href="#st" transform="rotate(103.7 790 733) translate(790 290)"/>
<use href="#tr" transform="rotate(107.2 790 733) translate(790 290)"/>
<use href="#ci" transform="rotate(110.7 790 733) translate(790 290)"/>
<use href="#ci" transform="rotate(114.2 790 733) translate(790 290)"/>
<use href="#ci" transform="rotate(117.7 790 733) translate(790 290)"/>
<use href="#ci" transform="rotate(121.2 790 733) translate(790 290)"/>
<use href="#st" transform="rotate(124.7 790 733) translate(790 290)"/>
<use href="#ci" transform="rotate(128.2 790 733) translate(790 290)"/>
<use href="#tr" transform="rotate(131.7 790 733) translate(790 290)"/>
<use href="#ci" transform="rotate(135.2 790 733) translate(790 290)"/>
<use href="#st" transform="rotate(138.7 790 733) translate(790 290)"/>
<use href="#ci" transform="rotate(142.2 790 733) translate(790 290)"/>
<use href="#st" transform="rotate(145.7 790 733) translate(790 290)"/>
<use href="#tr" transform="rotate(149.2 790 733) translate(790 290)"/>
<use href="#tr" transform="rotate(152.7 790 733) translate(790 290)"/>
<use href="#st" transform="rotate(156.2 790 733) translate(790 290)"/>
<use href="#st" transform="rotate(159.7 790 733) translate(790 290)"/>
<use href="#ci" transform="rotate(163.2 790 733) translate(790 290)"/>
<use href="#ci" transform="rotate(166.7 790 733) translate(790 290)"/>
<use href="#ci" transform="rotate(170.2 790 733) translate(790 290)"/>
<use href="#ci" transform="rotate(173.7 790 733) translate(790 290)"/>
<use href="#ci" transform="rotate(177.2 790 733) translate(790 290)"/>
<use href="#ci" transform="rotate(180.7 790 733) translate(790 290)"/>
<use href="#ci" transform="rotate(184.2 790 733) translate(790 290)"/>
<use href="#tr" transform="rotate(187.7 790 733) translate(790 290)"/>
<use href="#st" transform="rotate(191.2 790 733) translate(790 290)"/>
<use href="#tr" transform="rotate(194.7 790 733) translate(790 290)"/>
<use href="#st" transform="rotate(198.2 790 733) translate(790 290)"/>
<use href="#tr" transform="rotate(201.7 790 733) translate(790 290)"/>
<use href="#st" transform="rotate(205.2 790 733) translate(790 290)"/>
<use href="#tr" transform="rotate(208.7 790 733) translate(790 290)"/>
<use href="#st" transform="rotate(212.2 790 733) translate(790 290)"/>
<use href="#tr" transform="rotate(215.7 790 733) translate(790 290)"/>
<use href="#tr" transform="rotate(219.2 790 733) translate(790 290)"/>
<use href="#tr" transform="rotate(222.7 790 733) translate(790 290)"/>
<use href="#st" transform="rotate(226.2 790 733) translate(790 290)"/>
<use href="#st" transform="rotate(229.7 790 733) translate(790 290)"/>
<use href="#tr" transform="rotate(233.2 790 733) translate(790 290)"/>
<use href="#st" transform="rotate(236.7 790 733) translate(790 290)"/>
<use href="#tr" transform="rotate(240.2 790 733) translate(790 290)"/>
<use href="#st" transform="rotate(243.7 790 733) translate(790 290)"/>
<use href="#tr" transform="rotate(247.2 790 733) translate(790 290)"/>
<use href="#st" transform="rotate(250.7 790 733) translate(790 290)"/>
<use href="#tr" transform="rotate(254.2 790 733) translate(790 290)"/>
<use href="#st" transform="rotate(257.7 790 733) translate(790 290)"/>
<use href="#tr" transform="rotate(261.2 790 733) translate(790 290)"/>
<use href="#ci" transform="rotate(264.7 790 733) translate(790 290)"/>
<use href="#ci" transform="rotate(268.2 790 733) translate(790 290)"/>
<use href="#ci" transform="rotate(271.7 790 733) translate(790 290)"/>
<use href="#st" transform="rotate(275.2 790 733) translate(790 290)"/>
<use href="#tr" transform="rotate(278.7 790 733) translate(790 290)"/>
<use href="#ci" transform="rotate(282.2 790 733) translate(790 290)"/>
<use href="#ci" transform="rotate(285.7 790 733) translate(790 290)"/>
<use href="#ci" transform="rotate(289.2 790 733) translate(790 290)"/>
<use href="#tr" transform="rotate(292.7 790 733) translate(790 290)"/>
<use href="#tr" transform="rotate(296.2 790 733) translate(790 290)"/>
<use href="#tr" transform="rotate(299.7 790 733) translate(790 290)"/>
<use href="#tr" transform="rotate(303.2 790 733) translate(790 290)"/>
<use href="#tr" transform="rotate(306.7 790 733) translate(790 290)"/>
<use href="#tr" transform="rotate(310.2 790 733) translate(790 290)"/>
<use href="#st" transform="rotate(313.7 790 733) translate(790 290)"/>
<use href="#ci" transform="rotate(317.2 790 733) translate(790 290)"/>
<use href="#tr" transform="rotate(320.7 790 733) translate(790 290)"/>
<use href="#st" transform="rotate(324.2 790 733) translate(790 290)"/>
<use href="#ci" transform="rotate(327.7 790 733) translate(790 290)"/>
<use href="#ci" transform="rotate(331.2 790 733) translate(790 290)"/>
<use href="#st" transform="rotate(334.7 790 733) translate(790 290)"/>
<use href="#ci" transform="rotate(338.2 790 733) translate(790 290)"/>
<use href="#ci" transform="rotate(341.7 790 733) translate(790 290)"/>
<use href="#tr" transform="rotate(345.2 790 733) translate(790 290)"/>
<use href="#st" transform="rotate(348.7 790 733) translate(790 290)"/>
<use href="#tr" transform="rotate(352.2 790 733) translate(790 290)"/>
<use href="#st" transform="rotate(355.7 790 733) translate(790 290)"/>
</g>

<g class="lab">
<text class="L" x="324" y="743" transform="rotate(89.2 790 733)">SiCCT13</text>
<text class="R" x="1256" y="743" transform="rotate(-87.3 790 733)">Os05g0466100</text>
<text class="R" x="1256" y="743" transform="rotate(-83.8 790 733)">Os01g0835700</text>
<text class="R" x="1256" y="743" transform="rotate(-80.3 790 733)">SiCCT24</text>
<text class="R" x="1256" y="743" transform="rotate(-76.8 790 733)">SiCCT25</text>
<text class="R" x="1256" y="743" transform="rotate(-73.3 790 733)">Os11g0101200</text>
<text class="R" x="1256" y="743" transform="rotate(-69.8 790 733)">Os12g0101000</text>
<text class="R" x="1256" y="743" transform="rotate(-66.3 790 733)">SiCCT12</text>
<text class="R" x="1256" y="743" transform="rotate(-62.8 790 733)">Os05g0595300</text>
<text class="R" x="1256" y="743" transform="rotate(-59.3 790 733)">AT4G27900</text>
<text class="R" x="1256" y="743" transform="rotate(-55.8 790 733)">AT5G53420</text>
<text class="R" x="1256" y="743" transform="rotate(-52.3 790 733)">AT1G63820</text>
<text class="R" x="1256" y="743" transform="rotate(-48.8 790 733)">AT5G59990</text>
<text class="R" x="1256" y="743" transform="rotate(-45.3 790 733)">AT5G41380</text>
<text class="R" x="1256" y="743" transform="rotate(-41.8 790 733)">AT2G33350</text>
<text class="R" x="1256" y="743" transform="rotate(-38.3 790 733)">AT1G04500</text>
<text class="R" x="1256" y="743" transform="rotate(-34.8 790 733)">SiCCT32</text>
<text class="R" x="1256" y="743" transform="rotate(-31.3 790 733)">Os10g0466500</text>
<text class="R" x="1256" y="743" transform="rotate(-27.8 790 733)">Os03g0139500</text>
<text class="R" x="1256" y="743" transform="rotate(-24.3 790 733)">SiCCT36</text>
<text class="R" x="1256" y="743" transform="rotate(-20.8 790 733)">SiCCT15</text>
<text class="R" x="1256" y="743" transform="rotate(-17.3 790 733)">SiCCT14</text>
<text class="R" x="1256" y="743" transform="rotate(-13.8 790 733)">SiCCT37</text>
<text class="R" x="1256" y="743" transform="rotate(3.2 790 733)">Os06g0264200</text>
<text class="R" x="1256" y="743" transform="rotate(6.7 790 733)">SiCCT16</text>
<text class="R" x="1256" y="743" transform="rotate(10.2 790 733)">SiCCT7</text>
<text class="R" x="1256" y="743" transform="rotate(13.7 790 733)">Os03g0711100</text>
<text class="R" x="1256" y="743" transform="rotate(17.2 790 733)">SiCCT30</text>
<text class="R" x="1256" y="743" transform="rotate(20.7 790 733)">COL7</text>
<text class="R" x="1256" y="743" transform="rotate(24.2 790 733)">COL16</text>
<text class="R" x="1256" y="743" transform="rotate(27.7 790 733)">COL6</text>
<text class="R" x="1256" y="743" transform="rotate(31.2 790 733)">AT1G49130</text>
<text class="R" x="1256" y="743" transform="rotate(34.7 790 733)">Os08g0119700</text>
<text class="R" x="1256" y="743" transform="rotate(38.2 790 733)">AT5G14370</text>
<text class="R" x="1256" y="743" transform="rotate(41.7 790 733)">SiCCT19</text>
<text class="R" x="1256" y="743" transform="rotate(45.2 790 733)">AT1G07050</text>
<text class="R" x="1256" y="743" transform="rotate(48.7 790 733)">Os06g0699600</text>
<text class="R" x="1256" y="743" transform="rotate(52.2 790 733)">CIL</text>
<text class="R" x="1256" y="743" transform="rotate(55.7 790 733)">Os02g0148000</text>
<text class="R" x="1256" y="743" transform="rotate(59.2 790 733)">SiCCT3</text>
<text class="R" x="1256" y="743" transform="rotate(62.7 790 733)">SiCCT21</text>
<text class="R" x="1256" y="743" transform="rotate(66.2 790 733)">Os08g0536300</text>
<text class="R" x="1256" y="743" transform="rotate(69.7 790 733)">Os09g0509700</text>
<text class="R" x="1256" y="743" transform="rotate(73.2 790 733)">COL13</text>
<text class="R" x="1256" y="743" transform="rotate(76.7 790 733)">COL14</text>
<text class="R" x="1256" y="743" transform="rotate(80.2 790 733)">COL15</text>
<text class="R" x="1256" y="743" transform="rotate(83.7 790 733)">COL11</text>
<text class="R" x="1256" y="743" transform="rotate(87.2 790 733)">AT3G21880</text>
<text class="L" x="324" y="743" transform="rotate(-89.3 790 733)">COL9</text>
<text class="L" x="324" y="743" transform="rotate(-85.8 790 733)">COL10</text>
<text class="L" x="324" y="743" transform="rotate(-82.3 790 733)">SiCCT5</text>
<text class="L" x="324" y="743" transform="rotate(-78.8 790 733)">Os06g0298200</text>
<text class="L" x="324" y="743" transform="rotate(-75.3 790 733)">SiCCT8</text>
<text class="L" x="324" y="743" transform="rotate(-71.8 790 733)">DTH2</text>
<text class="L" x="324" y="743" transform="rotate(-68.3 790 733)">SiCCT1</text>
<text class="L" x="324" y="743" transform="rotate(-64.8 790 733)">Os07g0667300</text>
<text class="L" x="324" y="743" transform="rotate(-61.3 790 733)">SiCCT10</text>
<text class="L" x="324" y="743" transform="rotate(-57.8 790 733)">Os03g0351100</text>
<text class="L" x="324" y="743" transform="rotate(-54.3 790 733)">SiCCT34</text>
<text class="L" x="324" y="743" transform="rotate(-50.8 790 733)">SiCCT22</text>
<text class="L" x="324" y="743" transform="rotate(-47.3 790 733)">SiCCT28</text>
<text class="L" x="324" y="743" transform="rotate(-43.8 790 733)">GHD7</text>
<text class="L" x="324" y="743" transform="rotate(-40.3 790 733)">Os10g0560400</text>
<text class="L" x="324" y="743" transform="rotate(-36.8 790 733)">SiCCT33</text>
<text class="L" x="324" y="743" transform="rotate(-33.3 790 733)">Os09g0240200</text>
<text class="L" x="324" y="743" transform="rotate(-29.8 790 733)">SiCCT20</text>
<text class="L" x="324" y="743" transform="rotate(-26.3 790 733)">Os04g0497700</text>
<text class="L" x="324" y="743" transform="rotate(-22.8 790 733)">SiCCT23</text>
<text class="L" x="324" y="743" transform="rotate(-19.3 790 733)">Os02g0610500</text>
<text class="L" x="324" y="743" transform="rotate(-15.8 790 733)">SiCCT17</text>
<text class="L" x="324" y="743" transform="rotate(-12.3 790 733)">Os02g0178100</text>
<text class="L" x="324" y="743" transform="rotate(-8.8 790 733)">SiCCT2</text>
<text class="L" x="324" y="743" transform="rotate(-5.3 790 733)">COL4</text>
<text class="L" x="324" y="743" transform="rotate(-1.8 790 733)">COL3</text>
<text class="L" x="324" y="743" transform="rotate(1.7 790 733)">COL5</text>
<text class="L" x="324" y="743" transform="rotate(5.2 790 733)">Hd1</text>
<text class="L" x="324" y="743" transform="rotate(8.7 790 733)">SiCCT6</text>
<text class="L" x="324" y="743" transform="rotate(12.2 790 733)">COL2</text>
<text class="L" x="324" y="743" transform="rotate(15.7 790 733)">CO</text>
<text class="L" x="324" y="743" transform="rotate(19.2 790 733)">COL1</text>
<text class="L" x="324" y="743" transform="rotate(22.7 790 733)">SiCCT18</text>
<text class="L" x="324" y="743" transform="rotate(26.2 790 733)">SiCCT27</text>
<text class="L" x="324" y="743" transform="rotate(29.7 790 733)">SiCCT31</text>
<text class="L" x="324" y="743" transform="rotate(33.2 790 733)">SiCCT29</text>
<text class="L" x="324" y="743" transform="rotate(36.7 790 733)">SiCCT26</text>
<text class="L" x="324" y="743" transform="rotate(40.2 790 733)">SiCCT4</text>
<text class="L" x="324" y="743" transform="rotate(43.7 790 733)">Os02g0618200</text>
<text class="L" x="324" y="743" transform="rotate(47.2 790 733)">APRR1</text>
<text class="L" x="324" y="743" transform="rotate(50.7 790 733)">SiCCT9</text>
<text class="L" x="324" y="743" transform="rotate(54.2 790 733)">Os09g0532400</text>
<text class="L" x="324" y="743" transform="rotate(57.7 790 733)">APRR9</text>
<text class="L" x="324" y="743" transform="rotate(61.2 790 733)">APRR5</text>
<text class="L" x="324" y="743" transform="rotate(64.7 790 733)">Os11g0157600</text>
<text class="L" x="324" y="743" transform="rotate(68.2 790 733)">PRR3</text>
<text class="L" x="324" y="743" transform="rotate(71.7 790 733)">APRR7</text>
<text class="L" x="324" y="743" transform="rotate(75.2 790 733)">SiCCT35</text>
<text class="L" x="324" y="743" transform="rotate(78.7 790 733)">Os03g0284100</text>
<text class="L" x="324" y="743" transform="rotate(82.2 790 733)">SiCCT11</text>
<text class="L" x="324" y="743" transform="rotate(85.7 790 733)">Hd2</text>
</g>
</svg>
</body></html>
